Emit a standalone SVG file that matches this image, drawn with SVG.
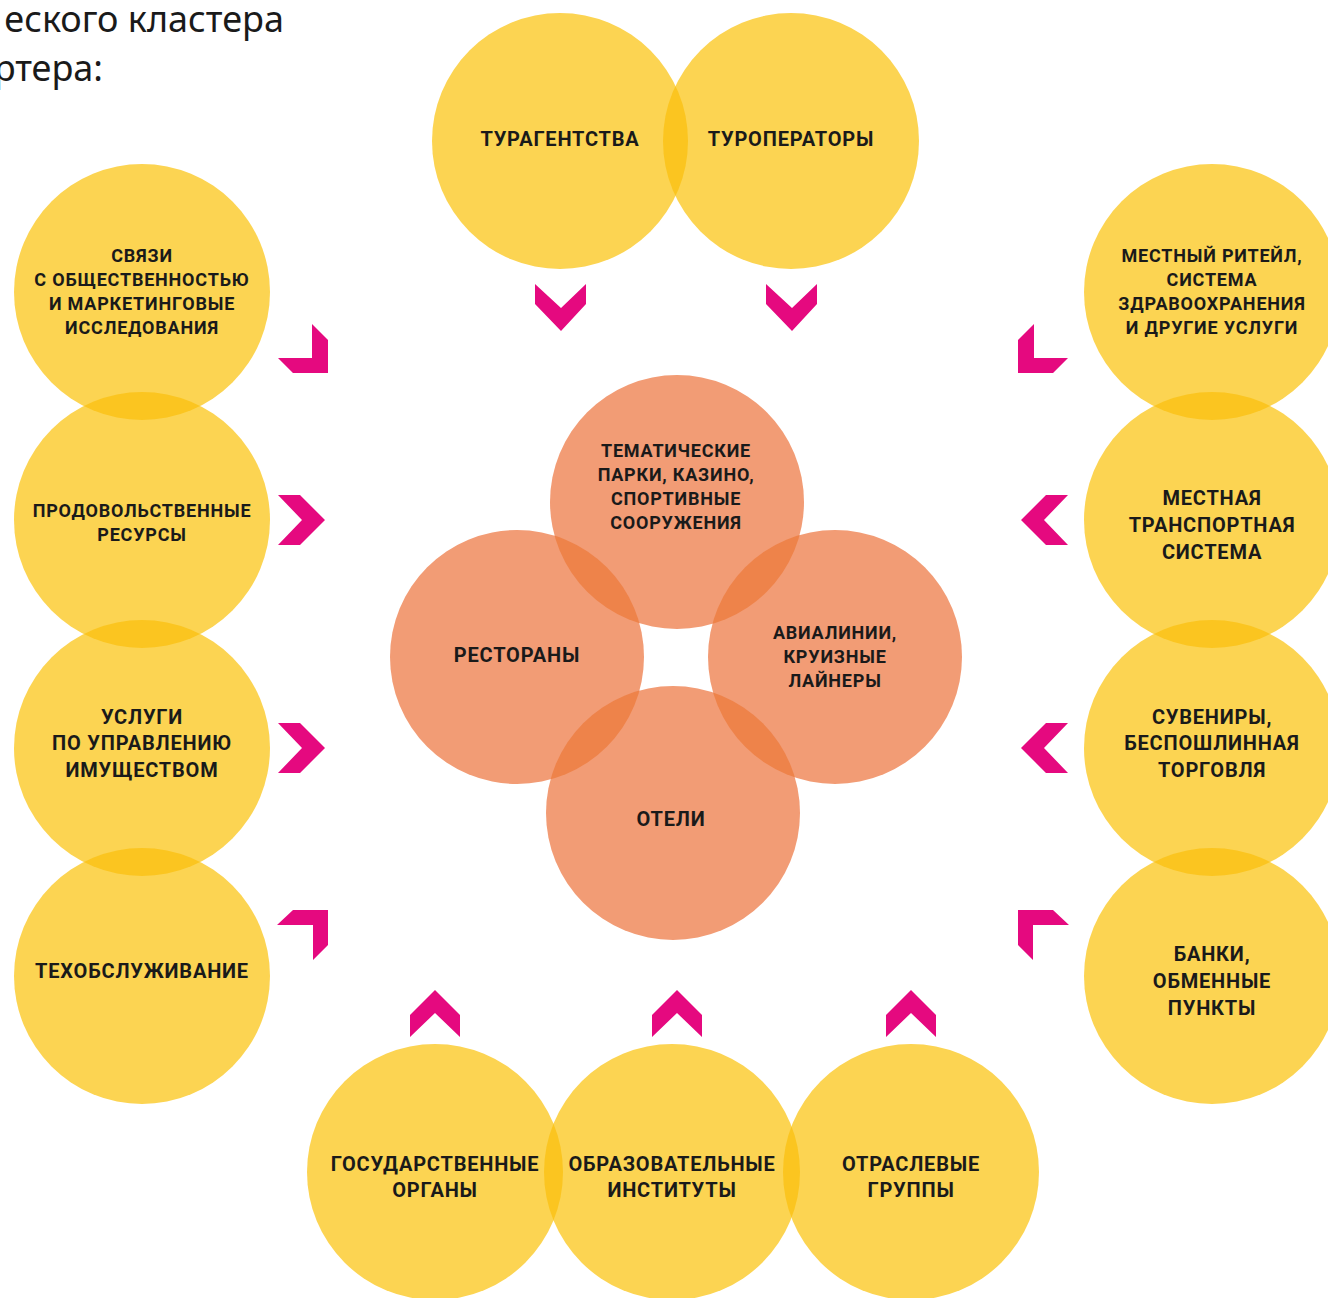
<svg xmlns="http://www.w3.org/2000/svg" width="1328" height="1298" viewBox="0 0 1328 1298">
<style>
.y{fill:#FCD452}
.yl{fill:#FBC520}
.o{fill:#F29C75}
.ol{fill:#EE834A}
.t{font-family:Roboto,"Liberation Sans",sans-serif;font-weight:bold;fill:#1a1a1a;text-anchor:middle;letter-spacing:0.8px}
.s{font-size:18px}
.b{font-size:20px}
.h{font-family:"Noto Sans","Open Sans",sans-serif;font-size:36px;fill:#1a1a1a;text-anchor:end}
.c{fill:#E5097F}
</style>
<defs>
<clipPath id="cT1"><circle cx="560" cy="141" r="128"/></clipPath>
<clipPath id="cL1"><circle cx="142" cy="292" r="128"/></clipPath>
<clipPath id="cL2"><circle cx="142" cy="520" r="128"/></clipPath>
<clipPath id="cL3"><circle cx="142" cy="748" r="128"/></clipPath>
<clipPath id="cR1"><circle cx="1212" cy="292" r="128"/></clipPath>
<clipPath id="cR2"><circle cx="1212" cy="520" r="128"/></clipPath>
<clipPath id="cR3"><circle cx="1212" cy="748" r="128"/></clipPath>
<clipPath id="cB1"><circle cx="435" cy="1172" r="128"/></clipPath>
<clipPath id="cB2"><circle cx="672" cy="1172" r="128"/></clipPath>
<clipPath id="cO1"><circle cx="677" cy="502" r="127"/></clipPath>
<clipPath id="cO2"><circle cx="517" cy="657" r="127"/></clipPath>
<clipPath id="cO3"><circle cx="835" cy="657" r="127"/></clipPath>
</defs>
<rect width="1328" height="1298" fill="#fff"/>
<g id="header">
<text class="h" x="284" y="32">еского кластера</text>
<text class="h" x="103" y="81">ртера:</text>
</g>
<g id="shapes">
<circle class="y" cx="560" cy="141" r="128"/>
<circle class="y" cx="791" cy="141" r="128"/>
<circle class="yl" cx="791" cy="141" r="128" clip-path="url(#cT1)"/>
<circle class="y" cx="142" cy="292" r="128"/>
<circle class="y" cx="142" cy="520" r="128"/>
<circle class="y" cx="142" cy="748" r="128"/>
<circle class="y" cx="142" cy="976" r="128"/>
<circle class="yl" cx="142" cy="520" r="128" clip-path="url(#cL1)"/>
<circle class="yl" cx="142" cy="748" r="128" clip-path="url(#cL2)"/>
<circle class="yl" cx="142" cy="976" r="128" clip-path="url(#cL3)"/>
<circle class="y" cx="1212" cy="292" r="128"/>
<circle class="y" cx="1212" cy="520" r="128"/>
<circle class="y" cx="1212" cy="748" r="128"/>
<circle class="y" cx="1212" cy="976" r="128"/>
<circle class="yl" cx="1212" cy="520" r="128" clip-path="url(#cR1)"/>
<circle class="yl" cx="1212" cy="748" r="128" clip-path="url(#cR2)"/>
<circle class="yl" cx="1212" cy="976" r="128" clip-path="url(#cR3)"/>
<circle class="y" cx="435" cy="1172" r="128"/>
<circle class="y" cx="672" cy="1172" r="128"/>
<circle class="y" cx="911" cy="1172" r="128"/>
<circle class="yl" cx="672" cy="1172" r="128" clip-path="url(#cB1)"/>
<circle class="yl" cx="911" cy="1172" r="128" clip-path="url(#cB2)"/>
<circle class="o" cx="677" cy="502" r="127"/>
<circle class="o" cx="517" cy="657" r="127"/>
<circle class="o" cx="835" cy="657" r="127"/>
<circle class="o" cx="673" cy="813" r="127"/>
<circle class="ol" cx="517" cy="657" r="127" clip-path="url(#cO1)"/>
<circle class="ol" cx="835" cy="657" r="127" clip-path="url(#cO1)"/>
<circle class="ol" cx="673" cy="813" r="127" clip-path="url(#cO2)"/>
<circle class="ol" cx="673" cy="813" r="127" clip-path="url(#cO3)"/>
</g>
<g id="n-turagentstva"><text class="t b" x="560" y="146">ТУРАГЕНТСТВА</text></g>
<g id="n-turoperatory"><text class="t b" x="791" y="146">ТУРОПЕРАТОРЫ</text></g>
<g id="n-pr" class="t s">
<text x="142" y="262">СВЯЗИ</text>
<text x="142" y="286">С ОБЩЕСТВЕННОСТЬЮ</text>
<text x="142" y="310">И МАРКЕТИНГОВЫЕ</text>
<text x="142" y="334">ИССЛЕДОВАНИЯ</text>
</g>
<g id="n-food" class="t s">
<text x="142" y="517">ПРОДОВОЛЬСТВЕННЫЕ</text>
<text x="142" y="541">РЕСУРСЫ</text>
</g>
<g id="n-property" class="t b">
<text x="142" y="724">УСЛУГИ</text>
<text x="142" y="750">ПО УПРАВЛЕНИЮ</text>
<text x="142" y="777">ИМУЩЕСТВОМ</text>
</g>
<g id="n-maintenance"><text class="t b" x="142" y="978">ТЕХОБСЛУЖИВАНИЕ</text></g>
<g id="n-retail" class="t s">
<text x="1212" y="262">МЕСТНЫЙ РИТЕЙЛ,</text>
<text x="1212" y="286">СИСТЕМА</text>
<text x="1212" y="310">ЗДРАВООХРАНЕНИЯ</text>
<text x="1212" y="334">И ДРУГИЕ УСЛУГИ</text>
</g>
<g id="n-transport" class="t b">
<text x="1212" y="505">МЕСТНАЯ</text>
<text x="1212" y="532">ТРАНСПОРТНАЯ</text>
<text x="1212" y="559">СИСТЕМА</text>
</g>
<g id="n-souvenirs" class="t b">
<text x="1212" y="724">СУВЕНИРЫ,</text>
<text x="1212" y="750">БЕСПОШЛИННАЯ</text>
<text x="1212" y="777">ТОРГОВЛЯ</text>
</g>
<g id="n-banks" class="t b">
<text x="1212" y="961">БАНКИ,</text>
<text x="1212" y="988">ОБМЕННЫЕ</text>
<text x="1212" y="1015">ПУНКТЫ</text>
</g>
<g id="n-gov" class="t b">
<text x="435" y="1171">ГОСУДАРСТВЕННЫЕ</text>
<text x="435" y="1197">ОРГАНЫ</text>
</g>
<g id="n-edu" class="t b">
<text x="672" y="1171">ОБРАЗОВАТЕЛЬНЫЕ</text>
<text x="672" y="1197">ИНСТИТУТЫ</text>
</g>
<g id="n-industry" class="t b">
<text x="911" y="1171">ОТРАСЛЕВЫЕ</text>
<text x="911" y="1197">ГРУППЫ</text>
</g>
<g id="n-parks" class="t s">
<text x="676" y="457">ТЕМАТИЧЕСКИЕ</text>
<text x="676" y="481">ПАРКИ, КАЗИНО,</text>
<text x="676" y="505">СПОРТИВНЫЕ</text>
<text x="676" y="529">СООРУЖЕНИЯ</text>
</g>
<g id="n-restaurants"><text class="t b" x="517" y="662">РЕСТОРАНЫ</text></g>
<g id="n-airlines" class="t s">
<text x="835" y="639">АВИАЛИНИИ,</text>
<text x="835" y="663">КРУИЗНЫЕ</text>
<text x="835" y="687">ЛАЙНЕРЫ</text>
</g>
<g id="n-hotels"><text class="t b" x="671" y="826">ОТЕЛИ</text></g>
<g id="connectors" class="c">
<polygon points="535,284 561,308 586,284 586,304 561,331 535,304"/>
<polygon points="766,284 792,308 817,284 817,304 792,331 766,304"/>
<polygon points="312,324 328,340 328,373 293,373 278,358 312,358"/>
<polygon points="1034,324 1018,340 1018,373 1053,373 1068,358 1034,358"/>
<polygon points="278,495 300,495 325,520 300,545 278,545 302,520"/>
<polygon points="278,723 300,723 325,748 300,773 278,773 302,748"/>
<polygon points="1068,495 1046,495 1021,520 1046,545 1068,545 1044,520"/>
<polygon points="1068,723 1046,723 1021,748 1046,773 1068,773 1044,748"/>
<polygon points="293,910 328,910 328,945 313,960 313,925 277,925"/>
<polygon points="1053,910 1018,910 1018,945 1033,960 1033,925 1069,925"/>
<polygon points="410,1015 435,990 460,1015 460,1037 435,1013 410,1037"/>
<polygon points="652,1015 677,990 702,1015 702,1037 677,1013 652,1037"/>
<polygon points="886,1015 911,990 936,1015 936,1037 911,1013 886,1037"/>
</g>
</svg>
